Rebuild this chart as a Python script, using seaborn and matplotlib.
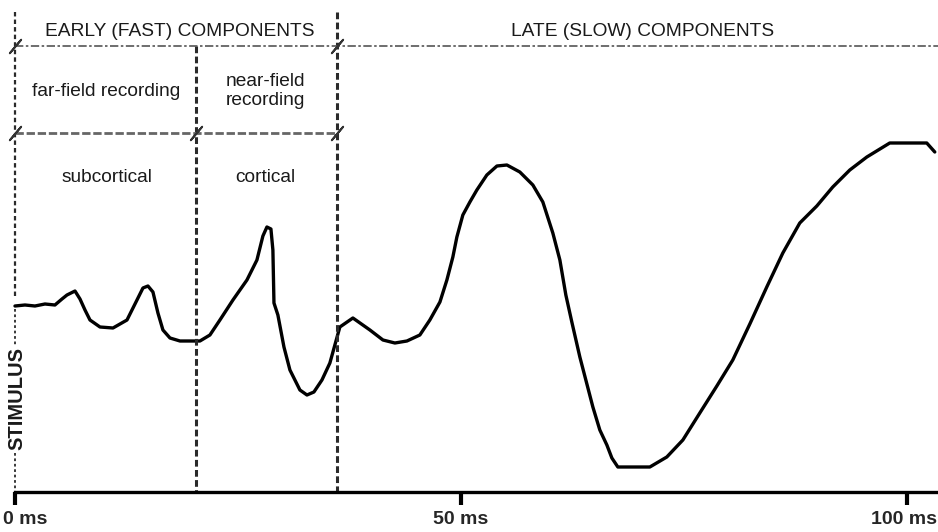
import pandas as pd
import seaborn as sns
import matplotlib.pyplot as plt
import matplotlib.transforms as mtransforms

# waveform: time in ms, amplitude in arbitrary units (baseline = 0)
time_ms = [
    0.0, 1.12, 2.24, 3.36, 4.48, 5.27, 5.83, 6.73, 7.29, 7.85, 8.41, 9.53,
    10.99, 12.56, 13.68, 14.35, 14.91, 15.47, 16.03, 16.59, 17.38, 18.50,
    20.74, 21.86, 22.98, 24.44, 26.01, 27.13, 27.80, 28.25, 28.70, 28.92,
    29.04, 29.48, 30.16, 30.83, 31.95, 32.74, 33.52, 34.42, 35.31, 35.87,
    36.43, 37.89, 39.80, 41.26, 42.60, 43.95, 45.40, 46.52, 47.65, 48.43,
    49.10, 49.55, 50.22, 51.01, 51.79, 52.91, 54.04, 55.16, 56.61, 58.07,
    59.19, 60.31, 61.10, 61.77, 62.44, 63.34, 64.80, 65.58, 66.37, 66.93,
    67.60, 71.19, 73.09, 74.89, 76.79, 78.70, 80.49, 82.40, 84.30, 86.10,
    88.00, 89.91, 91.70, 93.61, 95.52, 98.09, 102.24, 103.14,
]
amplitude = [
    -0.1, 0.0, -0.1, 0.1, 0.0, 0.6, 1.0, 1.4, 0.6, -0.5, -1.5, -2.2,
    -2.3, -1.5, 0.5, 1.7, 1.9, 1.3, -0.8, -2.5, -3.3, -3.6,
    -3.6, -3.0, -1.5, 0.5, 2.5, 4.5, 6.9, 7.8, 7.6, 5.5,
    0.2, -1.0, -4.2, -6.5, -8.5, -9.0, -8.7, -7.5, -5.8, -4.0,
    -2.2, -1.3, -2.5, -3.5, -3.8, -3.6, -3.0, -1.5, 0.3, 2.5,
    4.8, 6.8, 9.0, 10.3, 11.5, 13.0, 13.9, 14.0, 13.3, 12.0,
    10.3, 7.2, 4.5, 1.0, -1.7, -5.2, -10.2, -12.5, -14.0, -15.3,
    -16.2, -16.2, -15.2, -13.5, -10.8, -8.1, -5.5, -1.9, 1.8, 5.2,
    8.2, 9.9, 11.8, 13.5, 14.8, 16.2, 16.2, 15.3,
]

# component boundaries (ms) and labels
boundaries_ms = [0.0, 20.3, 36.1]
tick_values = [0, 50, 100]
tick_labels = ['0 ms', '50 ms', '100 ms']
band_titles = ['EARLY (FAST) COMPONENTS', 'LATE (SLOW) COMPONENTS']
recording_labels = ['far-field recording', 'near-field\nrecording']
origin_labels = ['subcortical', 'cortical']

df = pd.DataFrame({'time_ms': time_ms, 'amplitude': amplitude})

sns.set_style('white')
plt.rcParams['font.family'] = ['Liberation Sans', 'DejaVu Sans']

fig = plt.figure(figsize=(9.38, 5.32), dpi=100)
ax = fig.add_axes([0, 0, 1, 1])

X_MIN, X_MAX = -1.68, 103.5
Y_MIN, Y_MAX = -22.7, 30.5
Y_AXIS = -18.7
Y_TOP_LINE = 25.9
Y_MID_LINE = 17.2
Y_TOP = 29.3

sns.lineplot(data=df, x='time_ms', y='amplitude', sort=False, estimator=None,
             color='black', lw=2.4, solid_joinstyle='round', ax=ax)

line_col = '#2a2a2a'
# vertical boundaries
ax.plot([boundaries_ms[0]] * 2, [Y_TOP, 0.6], color=line_col, lw=1.6, ls=(0, (2, 1.4)))
ax.plot([boundaries_ms[0]] * 2, [-0.4, -4.0], color=line_col, lw=1.3, ls=(0, (1.5, 1.5)))
ax.plot([boundaries_ms[0]] * 2, [-14.8, Y_AXIS], color=line_col, lw=1.3, ls=(0, (1.5, 1.5)))
ax.plot([boundaries_ms[1]] * 2, [Y_TOP_LINE, Y_AXIS], color=line_col, lw=2.2, ls=(0, (2.2, 1.1)))
ax.plot([boundaries_ms[2]] * 2, [Y_TOP, Y_AXIS], color=line_col, lw=2.2, ls=(0, (2.2, 1.1)))

# horizontal separators
ax.plot([boundaries_ms[0], X_MAX], [Y_TOP_LINE] * 2, color='#555555', lw=1.2,
        ls=(0, (5, 1.5, 1.5, 1.5)))
ax.plot([boundaries_ms[0], boundaries_ms[2]], [Y_MID_LINE] * 2, color='#666666', lw=2.0,
        ls=(0, (3, 1)))

# little slanted marks where the separators meet
mark_x = [boundaries_ms[0], boundaries_ms[2], boundaries_ms[0], boundaries_ms[1], boundaries_ms[2]]
mark_y = [Y_TOP_LINE, Y_TOP_LINE, Y_MID_LINE, Y_MID_LINE, Y_MID_LINE]
ax.scatter(mark_x, mark_y, marker=(2, 2, -40), s=160, color='#333333', lw=1.4, zorder=3)

# text labels
txt = dict(fontsize=13.8, color='#1a1a1a', ha='center', va='center')
ax.text(18.5, 27.3, band_titles[0], **txt)
ax.text(70.4, 27.3, band_titles[1], **txt)
ax.text(10.2, 21.4, recording_labels[0], **txt)
ax.text(28.1, 21.4, recording_labels[1], linespacing=1.1, **txt)
ax.text(10.3, 12.8, origin_labels[0], **txt)
ax.text(28.1, 12.8, origin_labels[1], **txt)
ax.text(0.2, -9.4, 'STIMULUS', rotation=90, fontsize=14.5, fontweight='bold',
        color='#1a1a1a', ha='center', va='center')

ax.set_xlim(X_MIN, X_MAX)
ax.set_ylim(Y_MIN, Y_MAX)
ax.set_xlabel('')
ax.set_ylabel('')
ax.set_yticks([])
for side in ['top', 'right', 'left']:
    ax.spines[side].set_visible(False)
ax.spines['bottom'].set_position(('data', Y_AXIS))
ax.spines['bottom'].set_bounds(0, X_MAX)
ax.spines['bottom'].set_linewidth(2.4)
ax.spines['bottom'].set_color('black')

ax.set_xticks(tick_values)
ax.set_xticklabels(tick_labels, fontsize=14, fontweight='bold')
ax.tick_params(axis='x', direction='out', length=9.5, width=3, color='black', pad=4,
               bottom=True)
labels = ax.get_xticklabels()
labels[0].set_horizontalalignment('left')
labels[0].set_transform(labels[0].get_transform() +
                        mtransforms.ScaledTranslation(-12 / 100, 0, fig.dpi_scale_trans))
# keep the last label inside the picture
labels[-1].set_horizontalalignment('right')
labels[-1].set_transform(labels[-1].get_transform() +
                         mtransforms.ScaledTranslation(30 / 100, 0, fig.dpi_scale_trans))

fig.savefig('out.png', dpi=100)
